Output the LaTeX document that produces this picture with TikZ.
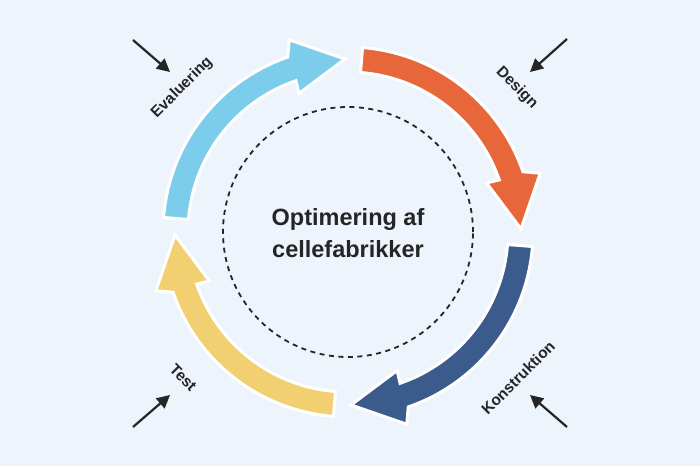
\documentclass[tikz,border=0pt]{standalone}
\usepackage{fontspec}
\setmainfont{Liberation Sans}
\usetikzlibrary{arrows.meta}
\definecolor{bg}{HTML}{EEF4FC}
\definecolor{sky}{HTML}{7CCDEB}
\definecolor{flame}{HTML}{E8673A}
\definecolor{navy}{HTML}{3B5B8D}
\definecolor{sun}{HTML}{F2CF71}
\definecolor{ink}{HTML}{252525}
\newcommand\cyclearrow[2]{%
  \filldraw[fill=#1, draw=white, line width=3pt, line join=miter]
    (#2-4.5:185) arc[start angle=#2-4.5, end angle=#2-71, radius=185]
    -- (#2-73:201) -- (#2-89:173) -- (#2-70.5:147) -- (#2-71:160)
    arc[start angle=#2-71, end angle=#2-4.5, radius=160] -- cycle;}
\tikzset{
  lbl/.style={text=ink, font=\bfseries\fontsize{15.5}{19}\selectfont, inner sep=0pt},
  title/.style={text=ink, font=\bfseries\fontsize{23.5}{28}\selectfont, inner sep=0pt, anchor=base},
  pointer/.style={draw=ink, line width=2.2pt, -{Triangle[length=13pt,width=13pt]}},
  ring/.style={draw=ink, line width=1.8pt, dash pattern=on 5pt off 4.5pt}
}
\begin{document}
\begin{tikzpicture}[x=1pt,y=1pt]
\fill[bg] (-348,-234) rectangle (352,232);
\useasboundingbox (-348,-234) rectangle (352,232);
\cyclearrow{flame}{90}
\cyclearrow{navy}{0}
\cyclearrow{sun}{-90}
\cyclearrow{sky}{180}
\draw[ring] (0,0) circle[radius=125];
\node[title] (t1) at (0,7) {Optimering af};
\node[title] (t2) at (0,-25) {cellefabrikker};
\node[lbl, rotate=45] (eval) at (139:220) {Evaluering};
\node[lbl, rotate=-45] (design) at (40.5:222) {Design};
\node[lbl, rotate=45] (konst) at (-40.6:224) {Konstruktion};
\node[lbl, rotate=-45] (test) at (-138.5:220) {Test};
\coordinate (tlA) at (-215,192); \coordinate (tlB) at (-178,160);
\coordinate (trA) at (219,193);  \coordinate (trB) at (182,160);
\coordinate (brA) at (219,-195); \coordinate (brB) at (182,-163);
\coordinate (blA) at (-215,-195); \coordinate (blB) at (-178,-163);
\draw[pointer] (tlA) -- (tlB);
\draw[pointer] (trA) -- (trB);
\draw[pointer] (brA) -- (brB);
\draw[pointer] (blA) -- (blB);
\end{tikzpicture}
\end{document}
